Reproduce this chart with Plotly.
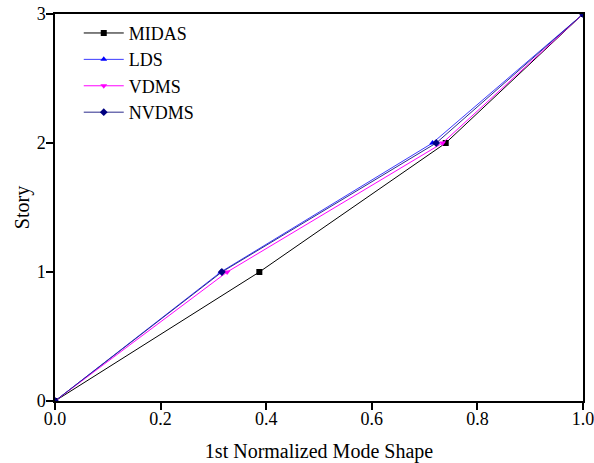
import plotly.graph_objects as go

story = [0, 1, 2, 3]
midas = [0.0, 0.387, 0.740, 1.0]
lds = [0.0, 0.314, 0.715, 1.0]
vdms = [0.0, 0.326, 0.734, 1.0]
nvdms = [0.0, 0.316, 0.722, 1.0]

series = [
    ("MIDAS", midas, "#000000", "#000000", "square"),
    ("LDS", lds, "#3b3bff", "#0000ff", "triangle-up"),
    ("VDMS", vdms, "#ff00ff", "#ff00ff", "triangle-down"),
    ("NVDMS", nvdms, "#2a2a8c", "#000080", "diamond"),
]

fig = go.Figure()
for name, xs, lc, mc, sym in series:
    fig.add_trace(go.Scatter(
        x=xs, y=story, name=name, mode="lines+markers",
        line=dict(color=lc, width=1),
        marker=dict(color=mc, symbol=sym, size=6),
    ))

font = "Liberation Serif, Times New Roman, serif"
fig.update_layout(
    width=594, height=463,
    margin=dict(l=55, r=11, t=14, b=62),
    paper_bgcolor="white", plot_bgcolor="white",
    font=dict(family=font, size=18, color="black"),
    showlegend=True,
    legend=dict(x=0.045, y=0.998, xanchor="left", yanchor="top",
                font=dict(size=18, family=font), bgcolor="rgba(0,0,0,0)",
                itemwidth=40, tracegroupgap=0),
)
fig.update_xaxes(
    range=[0, 1], tickvals=[0, 0.2, 0.4, 0.6, 0.8, 1.0], tickformat=".1f",
    showline=True, linecolor="black", linewidth=1.5, mirror=True,
    ticks="outside", ticklen=7, tickwidth=1.5, tickcolor="black",
    tickfont=dict(size=18, family=font), ticklabelstandoff=-6,
    ticklabeloverflow="allow",
    showgrid=False, zeroline=False, automargin=False,
    title=dict(text="1st Normalized Mode Shape", font=dict(size=20, family=font), standoff=18),
)
fig.update_yaxes(
    range=[0, 3], tickvals=[0, 1, 2, 3],
    showline=True, linecolor="black", linewidth=1.5, mirror=True,
    ticks="outside", ticklen=7, tickwidth=1.5, tickcolor="black",
    tickfont=dict(size=18, family=font), ticklabelstandoff=-3,
    ticklabeloverflow="allow",
    showgrid=False, zeroline=False, automargin=False,
    title=dict(text="Story", font=dict(size=20, family=font), standoff=2),
)
fig.write_html(
    "out.html",
    config={"displayModeBar": False},
    post_script="document.body.style.margin='0';document.body.style.overflow='hidden';document.documentElement.style.overflow='hidden';",
)
